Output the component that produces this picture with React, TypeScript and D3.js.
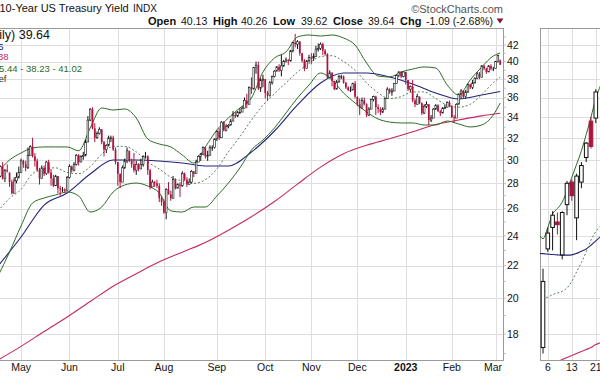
import React from "react";
import * as d3 from "d3";

// ---------- DATA ----------
const months = ["2022-04", "2022-05", "2022-06", "2022-07", "2022-08", "2022-09", "2022-10", "2022-11", "2022-12", "2023-01", "2023-02", "2023-03"];
const monthDays = [
  [18, 19, 20, 21, 22, 25, 26, 27, 28, 29],
  [2, 3, 4, 5, 6, 9, 10, 11, 12, 13, 16, 17, 18, 19, 20, 23, 24, 25, 26, 27, 31],
  [1, 2, 3, 6, 7, 8, 9, 10, 13, 14, 15, 16, 17, 21, 22, 23, 24, 27, 28, 29, 30],
  [1, 5, 6, 7, 8, 11, 12, 13, 14, 15, 18, 19, 20, 21, 22, 25, 26, 27, 28, 29],
  [1, 2, 3, 4, 5, 8, 9, 10, 11, 12, 15, 16, 17, 18, 19, 22, 23, 24, 25, 26, 29, 30, 31],
  [1, 2, 6, 7, 8, 9, 12, 13, 14, 15, 16, 19, 20, 21, 22, 23, 26, 27, 28, 29, 30],
  [3, 4, 5, 6, 7, 11, 12, 13, 14, 17, 18, 19, 20, 21, 24, 25, 26, 27, 28, 31],
  [1, 2, 3, 4, 7, 8, 9, 10, 14, 15, 16, 17, 18, 21, 22, 23, 25, 28, 29, 30],
  [1, 2, 5, 6, 7, 8, 9, 12, 13, 14, 15, 16, 19, 20, 21, 22, 23, 27, 28, 29, 30],
  [3, 4, 5, 6, 9, 10, 11, 12, 13, 17, 18, 19, 20, 23, 24, 25, 26, 27, 30, 31],
  [1, 2, 3, 6, 7, 8, 9, 10, 13, 14, 15, 16, 17, 21, 22, 23, 24, 27, 28],
  [1, 2, 3],
];

const opens = [
  28.3, 28.6, 29.4, 28.4, 29.1, 28.9, 28.1, 27.2, 28.2, 28.5,
  28.9, 29.9, 29.6, 29.3, 30.4, 31.2, 30.3, 29.9, 29.1, 28.4, 29.3, 28.8, 29.8, 28.9, 28.4, 27.8, 28.6, 27.6, 27.5, 27.5, 27.4,
  28.5, 29.4, 29.1, 29.6, 30.4, 29.8, 30.3, 30.4, 31.6, 33.7, 34.8, 32.9, 32.0, 32.4, 32.8, 31.6, 30.9, 31.3, 32.0, 32.0, 30.9,
  29.8, 28.8, 28.1, 29.3, 29.9, 30.8, 29.9, 29.6, 29.1, 29.6, 29.2, 29.6, 30.3, 30.3, 29.1, 27.7, 28.1, 28.0, 27.8, 26.8,
  26.5, 25.7, 27.5, 27.1, 26.8, 28.3, 27.6, 27.9, 27.8, 28.8, 28.3, 27.9, 28.1, 29.0, 28.8, 29.8, 30.3, 30.5, 31.1, 30.3, 30.4, 31.1, 31.1,
  31.9, 32.6, 32.0, 33.5, 32.7, 33.1, 33.2, 33.6, 34.2, 34.1, 34.5, 34.5, 34.9, 35.7, 35.3, 37.1, 36.9, 39.3, 39.6, 37.0, 37.9,
  38.0, 36.5, 36.2, 37.6, 38.3, 38.9, 39.4, 39.0, 39.5, 40.0, 40.2, 40.1, 41.3, 42.3, 42.1, 42.4, 41.0, 40.1, 39.2, 40.1,
  40.5, 40.4, 40.6, 41.5, 41.6, 42.1, 41.3, 40.9, 38.2, 38.7, 37.8, 36.9, 37.7, 38.3, 38.3, 37.6, 37.1, 36.8, 36.8, 37.5,
  36.1, 35.3, 34.9, 35.7, 35.3, 34.2, 34.8, 35.8, 36.1, 35.0, 34.8, 34.5, 34.8, 35.9, 36.9, 36.6, 36.7, 37.5, 38.4, 38.8, 38.3,
  38.8, 37.9, 36.9, 37.2, 35.7, 35.3, 36.1, 35.4, 34.4, 35.1, 35.3, 33.7, 33.9, 34.8, 35.2, 34.6, 34.4, 34.9, 35.0, 35.5,
  35.1, 34.0, 33.9, 35.3, 36.4, 36.7, 36.1, 36.6, 37.4, 37.1, 37.6, 38.1, 38.6, 38.2, 39.5, 39.2, 38.8, 39.5, 39.2,
  39.2, 40.0, 40.13,
];
const highs = [
  28.8, 29.5, 29.8, 29.2, 29.6, 28.9, 28.3, 28.5, 28.9, 29.4,
  30.1, 30.0, 29.9, 31.1, 31.3, 32.0, 30.6, 30.1, 29.3, 29.5, 29.5, 29.9, 30.0, 29.2, 28.7, 28.7, 28.6, 27.8, 27.7, 27.6, 28.6,
  29.6, 29.5, 29.8, 30.5, 30.5, 30.4, 30.7, 31.8, 34.1, 34.9, 35.0, 33.4, 32.6, 33.0, 32.8, 31.7, 31.4, 32.2, 32.2, 32.2, 31.1,
  29.8, 28.8, 29.5, 30.1, 31.1, 30.8, 30.1, 30.6, 29.9, 29.7, 30.1, 30.4, 30.7, 30.4, 29.2, 28.3, 28.2, 28.3, 28.0, 27.0,
  26.7, 27.6, 28.1, 27.4, 28.6, 28.4, 28.0, 28.1, 29.0, 28.9, 28.5, 28.4, 29.1, 29.0, 30.0, 30.4, 30.6, 31.2, 31.1, 30.8, 31.3, 31.3, 31.9,
  32.7, 32.9, 33.6, 33.6, 33.3, 33.3, 33.8, 34.6, 34.5, 34.6, 34.9, 35.1, 36.0, 36.4, 37.2, 38.2, 39.3, 40.0, 40.0, 38.1, 38.5,
  38.0, 36.7, 37.8, 38.4, 39.0, 39.5, 39.7, 40.8, 40.2, 40.5, 40.3, 41.4, 42.4, 43.4, 42.6, 42.5, 41.0, 40.3, 40.2, 40.8,
  41.0, 41.0, 41.9, 42.2, 42.3, 42.3, 41.5, 41.0, 39.0, 38.8, 37.8, 37.9, 38.5, 38.5, 38.4, 37.7, 37.2, 37.2, 37.6, 37.8,
  36.1, 35.9, 36.0, 36.0, 35.4, 35.0, 35.9, 36.2, 36.2, 35.3, 35.0, 35.0, 36.0, 37.1, 37.0, 37.0, 37.5, 38.5, 38.9, 38.9, 38.8,
  38.8, 37.9, 37.3, 37.9, 35.9, 36.4, 36.1, 35.5, 35.3, 35.6, 35.3, 34.2, 34.9, 35.3, 35.3, 34.7, 35.0, 35.3, 35.6, 35.7,
  35.2, 34.2, 35.4, 36.4, 36.9, 36.8, 36.8, 37.5, 37.5, 37.9, 38.2, 38.8, 38.8, 39.6, 39.6, 39.3, 39.6, 39.7, 39.4,
  40.1, 40.8, 40.26,
];
const lows = [
  28.1, 28.5, 28.3, 28.1, 28.9, 27.7, 27.1, 27.2, 28.0, 28.4,
  28.9, 29.3, 29.0, 29.2, 30.4, 30.2, 29.4, 29.0, 27.9, 28.4, 28.6, 28.7, 28.8, 27.8, 27.7, 27.8, 27.2, 27.0, 27.3, 27.2, 27.4,
  28.4, 28.9, 29.0, 29.5, 29.5, 29.8, 30.0, 30.3, 31.6, 33.6, 32.8, 31.6, 31.9, 32.3, 31.4, 30.3, 30.6, 31.2, 31.6, 30.8, 29.6,
  27.8, 27.6, 28.1, 29.2, 29.7, 29.8, 29.3, 28.9, 28.7, 29.0, 29.2, 29.4, 30.1, 28.7, 27.5, 27.7, 27.7, 27.6, 26.5, 26.2,
  25.6, 25.2, 27.1, 26.6, 26.8, 27.5, 27.6, 26.9, 27.7, 28.2, 27.7, 27.9, 28.0, 28.5, 28.8, 29.8, 29.9, 30.4, 30.1, 29.9, 30.4, 30.8, 31.0,
  31.7, 31.8, 32.0, 32.6, 32.6, 32.9, 33.2, 33.6, 33.9, 34.0, 34.3, 34.5, 34.9, 34.9, 35.3, 36.4, 36.9, 38.6, 36.8, 36.6, 37.1,
  35.9, 35.7, 36.1, 37.4, 38.2, 38.9, 38.8, 38.3, 39.4, 39.9, 39.6, 40.0, 41.1, 41.7, 41.5, 40.7, 39.9, 38.9, 39.2, 39.9,
  39.7, 40.1, 40.6, 41.2, 41.4, 40.8, 40.7, 38.1, 38.1, 37.2, 36.8, 36.9, 37.6, 38.0, 37.5, 36.9, 36.7, 36.6, 36.8, 35.9,
  35.1, 34.2, 34.9, 35.2, 34.0, 34.1, 34.8, 35.6, 34.2, 34.4, 34.2, 34.4, 34.8, 35.9, 36.4, 36.2, 36.7, 37.5, 38.2, 38.1, 38.2,
  37.4, 36.7, 36.6, 35.5, 35.0, 35.3, 35.3, 34.2, 34.3, 34.9, 33.2, 33.5, 33.9, 34.7, 34.5, 34.1, 34.4, 34.8, 35.0, 35.0,
  33.9, 33.4, 33.9, 35.3, 35.9, 35.9, 35.9, 36.5, 36.9, 36.9, 37.5, 38.0, 38.0, 38.2, 39.0, 38.6, 38.8, 39.0, 38.9,
  39.2, 39.9, 39.62,
];
const closes = [
  28.6, 29.4, 28.4, 29.1, 29.0, 28.1, 27.2, 28.2, 28.5, 28.9,
  29.9, 29.6, 29.3, 30.4, 31.2, 30.3, 29.9, 29.1, 28.4, 29.3, 28.8, 29.8, 28.9, 28.4, 27.8, 28.6, 27.6, 27.5, 27.5, 27.4, 28.5,
  29.4, 29.1, 29.6, 30.4, 29.8, 30.3, 30.4, 31.6, 33.7, 34.8, 32.9, 32.0, 32.4, 32.8, 31.6, 30.9, 31.3, 32.0, 32.0, 30.9, 29.8,
  28.8, 28.1, 29.3, 29.9, 30.8, 29.9, 29.6, 29.1, 29.6, 29.2, 29.6, 30.3, 30.3, 29.1, 27.7, 28.1, 28.0, 27.8, 26.8, 26.5,
  25.7, 27.5, 27.1, 26.8, 28.3, 27.6, 27.9, 27.8, 28.8, 28.3, 27.9, 28.1, 29.0, 28.8, 29.8, 30.3, 30.5, 31.1, 30.3, 30.4, 31.1, 31.1, 31.9,
  32.6, 32.0, 33.5, 32.7, 33.1, 33.2, 33.6, 34.2, 34.1, 34.5, 34.5, 34.9, 35.7, 35.3, 37.1, 36.9, 39.3, 39.6, 37.0, 37.9, 38.0,
  36.5, 36.2, 37.6, 38.3, 38.9, 39.4, 39.0, 39.5, 40.0, 40.2, 40.1, 41.3, 42.3, 42.1, 42.4, 41.0, 40.1, 39.2, 40.1, 40.5,
  40.4, 40.6, 41.5, 41.6, 42.1, 41.3, 40.9, 38.2, 38.7, 37.8, 36.9, 37.7, 38.3, 38.3, 37.6, 37.1, 36.8, 36.8, 37.5, 36.1,
  35.3, 34.9, 35.7, 35.3, 34.2, 34.8, 35.8, 36.1, 35.0, 34.8, 34.5, 34.8, 35.9, 36.9, 36.6, 36.7, 37.5, 38.4, 38.8, 38.3, 38.8,
  37.9, 36.9, 37.2, 35.7, 35.3, 36.1, 35.4, 34.4, 35.1, 35.3, 33.7, 33.9, 34.8, 35.2, 34.6, 34.4, 34.9, 35.0, 35.5, 35.1,
  34.0, 33.9, 35.3, 36.4, 36.7, 36.1, 36.6, 37.4, 37.1, 37.6, 38.1, 38.6, 38.2, 39.5, 39.2, 38.8, 39.5, 39.2, 39.2,
  40.0, 40.73, 39.64,
];

// Bollinger bands (20,2) read every 5 sessions (+ last session)
const bbUpper = [28.95, 29.98, 30.6, 31.06, 31.15, 31.15, 31.15, 30.8, 32.93, 34.92, 34.71, 34.82, 33.91, 31.88, 31.42, 31.15, 30.42, 29.72, 31.15, 32.74, 33.91, 34.92, 35.96, 38.8, 40.43, 41.15, 43.0, 43.25, 43.12, 43.25, 42.87, 42.0, 39.84, 38.35, 38.24, 38.8, 39.14, 39.38, 39.26, 37.35, 36.27, 37.91, 39.38, 40.67, 41.02];
const bbMiddle = [25.8, 26.8, 27.5, 28.8, 29.2, 29.3, 28.9, 28.8, 29.4, 30.5, 31.2, 31.2, 30.7, 29.8, 29.2, 28.5, 28.2, 28.0, 28.3, 29.2, 30.7, 32.1, 33.7, 35.2, 36.4, 37.6, 38.8, 39.8, 40.6, 40.7, 40.0, 39.0, 37.6, 36.5, 35.9, 36.1, 36.6, 36.6, 35.9, 35.2, 35.0, 35.3, 36.3, 37.6, 38.23];
const bbLower = [21.34, 22.89, 24.71, 26.43, 26.82, 27.06, 27.3, 26.98, 25.74, 26.12, 27.3, 27.86, 28.02, 27.78, 27.22, 25.82, 25.74, 26.12, 26.12, 26.98, 28.02, 29.29, 30.87, 31.79, 32.93, 34.41, 35.96, 37.35, 38.69, 37.91, 36.49, 35.44, 34.51, 33.81, 33.51, 33.42, 33.42, 33.22, 33.22, 33.61, 33.32, 33.03, 33.22, 34.21, 35.44];
// Moving averages read every 10 sessions (+ last session)
const ma50 = [21.97, 23.92, 26.27, 27.22, 28.77, 29.98, 29.98, 29.89, 29.72, 29.46, 29.46, 30.69, 32.64, 35.23, 37.57, 38.69, 38.69, 38.24, 37.46, 36.49, 35.85, 36.27, 36.65];
const ma200 = [16.68, 17.36, 18.13, 18.92, 19.8, 20.71, 21.48, 22.24, 22.88, 23.54, 24.4, 25.38, 26.54, 27.93, 29.36, 30.54, 31.31, 31.9, 32.56, 33.27, 33.71, 34.12, 34.38];

const yTicks = [18, 20, 22, 24, 26, 28, 30, 32, 34, 36, 38, 40, 42];
const monthNames = ["Jan", "Feb", "Mar", "Apr", "May", "Jun", "Jul", "Aug", "Sep", "Oct", "Nov", "Dec"];

// Second (cropped) panel on the right
const rpDays = ["2", "3", "6", "7", "8", "9", "10", "13", "14", "15", "16", "17", "21", "22"];
const rpLabels = ["6", "13", "21"];
const rpOpen = [null, 17.3, 23.1, 24.6, 25.0, 22.7, 26.3, 28.1, 25.3, 28.1, 30.2, 33.6, 33.9, null];
const rpHigh = [null, 21.8, 24.6, 25.8, 25.7, 25.8, 28.2, 28.3, 28.8, 29.8, 31.6, 34.0, 36.9, null];
const rpLow = [null, 17.0, 22.9, 23.0, 24.1, 22.4, 25.5, 26.6, 23.7, 27.6, 29.8, 31.0, 33.4, null];
const rpClose = [null, 21.0, 24.2, 25.5, 24.8, 25.7, 28.0, 27.0, 28.6, 29.5, 31.5, 31.2, 36.6, null];
const rpUpper = [24.2, 23.8, 24.6, 25.6, 26.0, 26.5, 27.4, 28.5, 29.6, 30.8, 32.3, 34.0, 35.9, 37.3];
const rpMiddle = [20.0, 20.0, 20.06, 20.2, 20.3, 20.4, 20.6, 21.0, 21.6, 22.2, 22.9, 23.7, 24.3, 24.7];
const rpMa50 = [22.8, 22.78, 22.75, 22.72, 22.7, 22.68, 22.68, 22.7, 22.8, 22.95, 23.1, 23.35, 23.65, 23.95];
const rpMa200 = [16.2, 16.3, 16.4, 16.5, 16.6, 16.7, 16.8, 16.9, 17.0, 17.1, 17.2, 17.3, 17.45, 17.55];

// ---------- STYLE ----------
const FONT = "'Liberation Sans', Arial, Helvetica, sans-serif";
const C = {
  grid: "#dedede",
  border: "#9a9a9a",
  bb: "#2f6a26",
  mid: "#5d7d5d",
  ma50: "#22237a",
  ma200: "#c62a5a",
  red: "#b0123e",
  black: "#111",
};

export default function App() {
  const dates = months.flatMap((m, k) => monthDays[k].map((d) => `${m}-${String(d).padStart(2, "0")}`));
  const N = dates.length;

  const PL = 0, PR = 503, PT = 28, PB = 360;
  const RL = 540, RR = 600;

  const x = d3.scalePoint<string>().domain(dates).range([-1.96, 500.2]);
  const y = d3.scaleLog().domain([18, 42]).range([334, 45]);
  const xr = d3.scalePoint<string>().domain(rpDays).range([538.2, 600.6]);

  const s5 = dates.filter((_, i) => i % 5 === 0 || i === N - 1);
  const s10 = dates.filter((_, i) => i % 10 === 0 || i === N - 1);
  const zip = (ds: string[], vs: number[]) => ds.map((d, i) => [d, vs[i]] as [string, number]);

  const lineMain = d3
    .line<[string, number]>()
    .x((d) => x(d[0]) as number)
    .y((d) => y(d[1]))
    .curve(d3.curveMonotoneX);
  const lineRp = d3
    .line<[string, number]>()
    .x((d) => xr(d[0]) as number)
    .y((d) => y(d[1]))
    .curve(d3.curveMonotoneX);

  // month labels
  const monthMarks: { i: number; label: string; bold: boolean }[] = [];
  for (let i = 1; i < N; i++) {
    if (dates[i].slice(0, 7) !== dates[i - 1].slice(0, 7)) {
      const mm = +dates[i].slice(5, 7);
      monthMarks.push({ i, label: mm === 1 ? dates[i].slice(0, 4) : monthNames[mm - 1], bold: mm === 1 });
    }
  }

  const bw = 1.7;
  const candles = dates.map((d, i) => {
    const o = opens[i], h = highs[i], l = lows[i], c = closes[i];
    const prev = i > 0 ? closes[i - 1] : o;
    const col = c >= prev ? C.black : C.red;
    const cx = x(d) as number;
    const yt = y(Math.max(o, c)), yb = y(Math.min(o, c));
    const hollow = c > o;
    return (
      <g key={d}>
        <line x1={cx} x2={cx} y1={y(h)} y2={y(l)} stroke={col} strokeWidth={1} />
        <rect
          x={cx - bw / 2}
          y={yt}
          width={bw}
          height={Math.max(1, yb - yt)}
          fill={hollow ? "#fff" : col}
          stroke={hollow ? col : "none"}
          strokeWidth={hollow ? 0.6 : 0}
        />
      </g>
    );
  });

  const rbw = 3.6;
  const rpCandles = rpDays.map((d, i) => {
    const o = rpOpen[i], h = rpHigh[i], l = rpLow[i], c = rpClose[i];
    if (o == null || h == null || l == null || c == null) return null;
    const prevC = i > 0 && rpClose[i - 1] != null ? (rpClose[i - 1] as number) : o;
    const col = c >= prevC ? C.black : C.red;
    const cx = xr(d) as number;
    const yt = y(Math.max(o, c)), yb = y(Math.min(o, c));
    const hollow = c > o;
    return (
      <g key={"r" + d}>
        <line x1={cx} x2={cx} y1={y(h)} y2={y(l)} stroke={col} strokeWidth={1} />
        <rect
          x={cx - rbw / 2}
          y={yt}
          width={rbw}
          height={Math.max(1, yb - yt)}
          fill={hollow ? "#fff" : col}
          stroke={col}
          strokeWidth={1}
        />
      </g>
    );
  });

  const header = [
    { t: "Open", b: true, x: 148 },
    { t: "40.13", b: false, x: 181 },
    { t: "High", b: true, x: 213 },
    { t: "40.26", b: false, x: 241 },
    { t: "Low", b: true, x: 273 },
    { t: "39.62", b: false, x: 301 },
    { t: "Close", b: true, x: 333 },
    { t: "39.64", b: false, x: 368 },
    { t: "Chg", b: true, x: 400 },
    { t: "-1.09 (-2.68%)", b: false, x: 426 },
  ];

  const minorTicks = d3.range(17, 44);

  return (
    <svg
      width={600}
      height={376}
      style={{ position: "absolute", left: 0, top: 0, background: "#fff", fontFamily: FONT }}
    >
      <defs>
        <clipPath id="mainClip">
          <rect x={PL} y={PT} width={PR - PL} height={PB - PT} />
        </clipPath>
        <clipPath id="rpClip">
          <rect x={RL} y={PT} width={RR - RL} height={PB - PT} />
        </clipPath>
      </defs>
      <rect x={0} y={0} width={600} height={376} fill="#fff" />

      {/* header */}
      <text x={-0.5} y={12} fontSize={11} fill="#111">10-Year US Treasury Yield</text>
      <text x={133} y={12} fontSize={10} fill="#111">INDX</text>
      <text x={503} y={12.5} fontSize={11} fill="#555" textAnchor="end">©StockCharts.com</text>
      {header.map((h) => (
        <text key={h.t} x={h.x} y={25} fontSize={h.b ? 11 : 10.5} fontWeight={h.b ? "bold" : "normal"} fill="#111">
          {h.t}
        </text>
      ))}
      <path d="M496.5,18.5 L503.5,18.5 L500,23.5 Z" fill="#8a1438" />

      {/* main panel grid */}
      {yTicks.map((v) => (
        <line key={"g" + v} x1={PL} x2={PR} y1={Math.round(y(v)) + 0.5} y2={Math.round(y(v)) + 0.5} stroke={C.grid} />
      ))}
      {monthMarks.map((m) => {
        const gx = Math.round(x(dates[m.i]) as number) + 0.5;
        return <line key={"v" + m.i} x1={gx} x2={gx} y1={PT} y2={PB} stroke={C.grid} />;
      })}

      {/* right panel grid */}
      {yTicks.map((v) => (
        <line key={"rg" + v} x1={RL} x2={RR} y1={Math.round(y(v)) + 0.5} y2={Math.round(y(v)) + 0.5} stroke={C.grid} />
      ))}
      {rpLabels.map((d) => {
        const gx = Math.round(xr(d) as number) + 0.5;
        return <line key={"rv" + d} x1={gx} x2={gx} y1={PT} y2={PB} stroke={C.grid} />;
      })}

      {/* borders */}
      <line x1={PL} x2={PR + 0.5} y1={PT + 0.5} y2={PT + 0.5} stroke={C.border} />
      <line x1={PL} x2={PR + 0.5} y1={PB + 0.5} y2={PB + 0.5} stroke={C.border} />
      <line x1={PR + 0.5} x2={PR + 0.5} y1={PT} y2={PB + 1} stroke={C.border} />
      {minorTicks.map((v) => (
        <line key={"mt" + v} x1={PR} x2={PR + 3} y1={y(v)} y2={y(v)} stroke="#b5b5b5" strokeWidth={0.8} />
      ))}
      <line x1={RL + 0.5} x2={RR} y1={PT + 0.5} y2={PT + 0.5} stroke={C.border} />
      <line x1={RL + 0.5} x2={RL + 0.5} y1={PT} y2={PB + 1} stroke={C.border} />
      <line x1={RL} x2={RR} y1={PB + 0.5} y2={PB + 0.5} stroke={C.border} />

      {/* main overlays + candles */}
      <g clipPath="url(#mainClip)">
        <path d={lineMain(zip(s10, ma200)) || ""} fill="none" stroke={C.ma200} strokeWidth={1.1} />
        <path d={lineMain(zip(s10, ma50)) || ""} fill="none" stroke={C.ma50} strokeWidth={1.1} />
        <path d={lineMain(zip(s5, bbUpper)) || ""} fill="none" stroke={C.bb} strokeWidth={1} />
        <path d={lineMain(zip(s5, bbLower)) || ""} fill="none" stroke={C.bb} strokeWidth={1} />
        <path d={lineMain(zip(s5, bbMiddle)) || ""} fill="none" stroke={C.mid} strokeWidth={1} strokeDasharray="2,2" />
        {candles}
      </g>

      {/* right panel overlays + candles */}
      <g clipPath="url(#rpClip)">
        <path d={lineRp(zip(rpDays, rpMa200)) || ""} fill="none" stroke={C.ma200} strokeWidth={1.1} />
        <path d={lineRp(zip(rpDays, rpMa50)) || ""} fill="none" stroke={C.ma50} strokeWidth={1.1} />
        <path d={lineRp(zip(rpDays, rpMiddle)) || ""} fill="none" stroke={C.mid} strokeWidth={1} strokeDasharray="2,2" />
        <path d={lineRp(zip(rpDays, rpUpper)) || ""} fill="none" stroke={C.bb} strokeWidth={1} />
        {rpCandles}
      </g>

      {/* legend */}
      <text x={50} y={39} fontSize={12.5} fill="#111" textAnchor="end">$TNX (Daily) 39.64</text>
      <text x={3.5} y={49.5} fontSize={9.5} fill={C.ma50} textAnchor="end">MA(50) 36.65</text>
      <text x={8.5} y={60} fontSize={9.5} fill={C.ma200} textAnchor="end">MA(200) 34.38</text>
      <text x={82} y={71.5} fontSize={9.5} fill={C.bb} textAnchor="end">BB(20,2.0) 35.44 - 38.23 - 41.02</text>
      <text x={6.5} y={82} fontSize={9.5} fill="#333" textAnchor="end">Volume undef</text>

      {/* y axis labels */}
      {yTicks.map((v) => (
        <text key={"yl" + v} x={507} y={y(v)} dy="0.36em" fontSize={10.5} fill="#111">
          {v}
        </text>
      ))}

      {/* x axis labels */}
      {monthMarks.map((m) => {
        const mx = x(dates[m.i]) as number;
        const atEnd = mx > 490;
        return (
          <text
            key={"ml" + m.i}
            x={atEnd ? 502 : mx}
            y={371}
            fontSize={10.5}
            fontWeight={m.bold ? "bold" : "normal"}
            textAnchor={atEnd ? "end" : "middle"}
            fill="#111"
          >
            {m.label}
          </text>
        );
      })}
      {rpLabels.map((d) => (
        <text key={"rl" + d} x={xr(d) as number} y={371} fontSize={10.5} textAnchor="middle" fill="#111">
          {d}
        </text>
      ))}
    </svg>
  );
}
